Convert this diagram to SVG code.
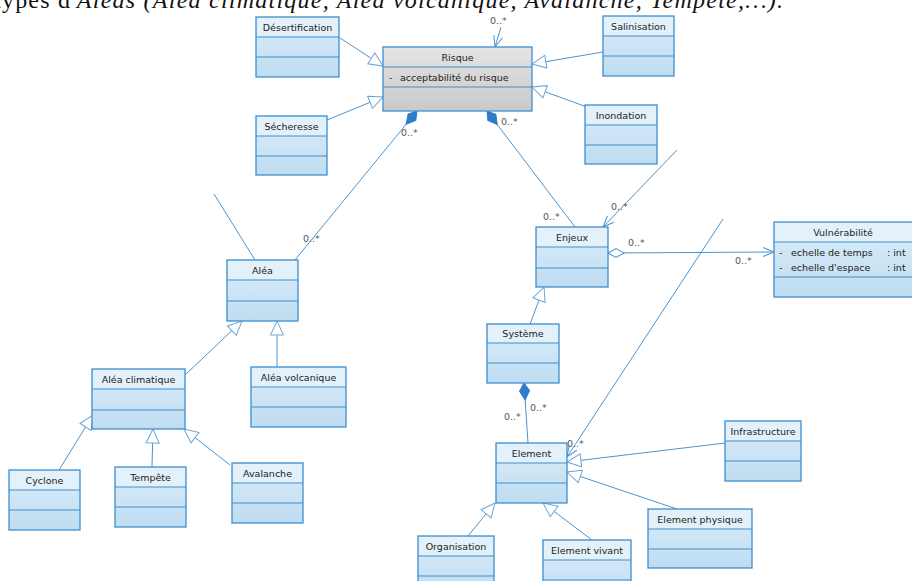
<svg xmlns="http://www.w3.org/2000/svg" width="912" height="581" viewBox="0 0 912 581">
  <defs>
    <linearGradient id="cls" x1="0" y1="0" x2="0" y2="1">
      <stop offset="0" stop-color="#dcedf9"/>
      <stop offset="1" stop-color="#bedcf1"/>
    </linearGradient>
    <linearGradient id="sel" x1="0" y1="0" x2="0" y2="1">
      <stop offset="0" stop-color="#e4e4e4"/>
      <stop offset="1" stop-color="#c9c9c9"/>
    </linearGradient>
    <marker id="gen" markerUnits="userSpaceOnUse" markerWidth="15" markerHeight="14" refX="14" refY="6.5" orient="auto" overflow="visible">
      <path d="M0,0 L14,6.5 L0,13 z" fill="#ffffff" stroke="#6aa6d8" stroke-width="1"/>
    </marker>
    <marker id="nav" markerUnits="userSpaceOnUse" markerWidth="12" markerHeight="10" refX="11" refY="4.5" orient="auto" overflow="visible">
      <path d="M0,0 L11,4.5 L0,9" fill="none" stroke="#4a94d0" stroke-width="1"/>
    </marker>
    <marker id="comp" markerUnits="userSpaceOnUse" markerWidth="18" markerHeight="10" refX="0" refY="5" orient="auto" overflow="visible">
      <path d="M0,5 L8,0 L17,5 L8,10 z" fill="#2f7cc9" stroke="#2f7cc9" stroke-width="1"/>
    </marker>
    <marker id="aggr" markerUnits="userSpaceOnUse" markerWidth="18" markerHeight="10" refX="0" refY="4.5" orient="auto" overflow="visible">
      <path d="M0,4.5 L8,0 L16,4.5 L8,9 z" fill="#ffffff" stroke="#4a94d0" stroke-width="1"/>
    </marker>
  </defs>
  <style>
    .box { fill: url(#cls); stroke: #3c8fd0; stroke-width: 1.3; }
    .box.sel { fill: url(#sel); }
    .hdr { fill: #e8f3fb; opacity: 0.7; }
    .div { stroke: #3c8fd0; stroke-width: 1.2; }
    .name { font-family: "DejaVu Sans", "Liberation Sans", sans-serif; font-size: 9.5px; fill: #222; text-anchor: middle; }
    .attr { font-family: "DejaVu Sans", "Liberation Sans", sans-serif; font-size: 9.5px; fill: #222; }
    .lnk { fill: none; stroke: #4a94d0; stroke-width: 1; }
    .mult { font-family: "DejaVu Sans", "Liberation Sans", sans-serif; font-size: 9.5px; fill: #555; }
    .cap { font-family: "Liberation Serif", "Times New Roman", serif; font-size: 24px; fill: #111; }
  </style>

  <!-- caption line above the figure -->
  <text class="cap" x="-6" y="8" textLength="789" lengthAdjust="spacing">types d'<tspan font-style="italic">Aléas (Aléa climatique, Aléa volcanique, Avalanche, Tempête,…).</tspan></text>

  <!-- connectors -->
  <g id="connectors">
    <!-- generalizations towards Risque -->
    <line class="lnk" x1="340" y1="38" x2="383" y2="66" marker-end="url(#gen)"/>
    <line class="lnk" x1="603" y1="52" x2="532" y2="64" marker-end="url(#gen)"/>
    <line class="lnk" x1="327" y1="120" x2="383" y2="97" marker-end="url(#gen)"/>
    <line class="lnk" x1="587" y1="107" x2="532" y2="87" marker-end="url(#gen)"/>
    <!-- association entering Risque from above -->
    <line class="lnk" x1="501" y1="27" x2="495" y2="47" marker-end="url(#nav)"/>
    <text class="mult" x="490" y="24">0..*</text>
    <!-- Risque compositions -->
    <line class="lnk" x1="417" y1="111" x2="295" y2="260" marker-start="url(#comp)"/>
    <text class="mult" x="401" y="136">0..*</text>
    <text class="mult" x="303" y="242">0..*</text>
    <line class="lnk" x1="487" y1="111" x2="575" y2="227" marker-start="url(#comp)"/>
    <text class="mult" x="501" y="125">0..*</text>
    <text class="mult" x="543" y="220">0..*</text>
    <!-- association entering Enjeux from upper right -->
    <line class="lnk" x1="677" y1="150" x2="603" y2="227" marker-end="url(#nav)"/>
    <text class="mult" x="611" y="210">0..*</text>
    <!-- line reaching Aléa from upper left -->
    <line class="lnk" x1="214" y1="194" x2="255" y2="260"/>
    <!-- Enjeux aggregates Vulnérabilité -->
    <line class="lnk" x1="608" y1="253" x2="774" y2="252" marker-start="url(#aggr)" marker-end="url(#nav)"/>
    <text class="mult" x="628" y="246">0..*</text>
    <text class="mult" x="735" y="264">0..*</text>
    <!-- long association to Element -->
    <line class="lnk" x1="723" y1="219" x2="567" y2="457" marker-end="url(#nav)"/>
    <text class="mult" x="567" y="447">0..*</text>
    <!-- Système / Enjeux / Element -->
    <line class="lnk" x1="530" y1="324" x2="544" y2="287" marker-end="url(#gen)"/>
    <line class="lnk" x1="524" y1="383" x2="528" y2="443" marker-start="url(#comp)"/>
    <text class="mult" x="504" y="420">0..*</text>
    <text class="mult" x="530" y="411">0..*</text>
    <!-- specializations of Element -->
    <line class="lnk" x1="725" y1="443" x2="567" y2="462" marker-end="url(#gen)"/>
    <line class="lnk" x1="677" y1="509" x2="567" y2="472" marker-end="url(#gen)"/>
    <line class="lnk" x1="468" y1="536" x2="495" y2="503" marker-end="url(#gen)"/>
    <line class="lnk" x1="592" y1="540" x2="543" y2="503" marker-end="url(#gen)"/>
    <!-- specializations of Aléa -->
    <line class="lnk" x1="184" y1="376" x2="242" y2="321" marker-end="url(#gen)"/>
    <line class="lnk" x1="277" y1="367" x2="277" y2="321" marker-end="url(#gen)"/>
    <!-- specializations of Aléa climatique -->
    <line class="lnk" x1="59" y1="470" x2="93" y2="415" marker-end="url(#gen)"/>
    <line class="lnk" x1="152" y1="467" x2="153" y2="429" marker-end="url(#gen)"/>
    <line class="lnk" x1="230" y1="465" x2="184" y2="429" marker-end="url(#gen)"/>
  </g>

  <!-- classes -->
  <g id="desertification">
    <rect class="box" x="256" y="17" width="83" height="60"/>
    <rect class="hdr" x="257" y="18" width="81" height="19"/>
    <line class="div" x1="256" y1="37" x2="339" y2="37"/>
    <line class="div" x1="256" y1="57" x2="339" y2="57"/>
    <text class="name" x="297.5" y="31">Désertification</text>
  </g>
  <g id="risque">
    <rect class="box sel" x="383" y="47" width="149" height="64"/>
    <line class="div" x1="383" y1="67" x2="532" y2="67"/>
    <line class="div" x1="383" y1="87" x2="532" y2="87"/>
    <text class="name" x="457.5" y="61">Risque</text>
    <text class="attr" x="389" y="81">-</text>
    <text class="attr" x="400" y="81">acceptabilité du risque</text>
  </g>
  <g id="salinisation">
    <rect class="box" x="603" y="16" width="71" height="60"/>
    <rect class="hdr" x="604" y="17" width="69" height="19"/>
    <line class="div" x1="603" y1="36" x2="674" y2="36"/>
    <line class="div" x1="603" y1="56" x2="674" y2="56"/>
    <text class="name" x="638.5" y="30">Salinisation</text>
  </g>
  <g id="secheresse">
    <rect class="box" x="256" y="116" width="71" height="59"/>
    <rect class="hdr" x="257" y="117" width="69" height="19"/>
    <line class="div" x1="256" y1="136" x2="327" y2="136"/>
    <line class="div" x1="256" y1="156" x2="327" y2="156"/>
    <text class="name" x="291.5" y="130">Sécheresse</text>
  </g>
  <g id="inondation">
    <rect class="box" x="585" y="105" width="72" height="59"/>
    <rect class="hdr" x="586" y="106" width="70" height="19"/>
    <line class="div" x1="585" y1="125" x2="657" y2="125"/>
    <line class="div" x1="585" y1="145" x2="657" y2="145"/>
    <text class="name" x="621" y="119">Inondation</text>
  </g>
  <g id="enjeux">
    <rect class="box" x="536" y="227" width="72" height="60"/>
    <rect class="hdr" x="537" y="228" width="70" height="19"/>
    <line class="div" x1="536" y1="247" x2="608" y2="247"/>
    <line class="div" x1="536" y1="268" x2="608" y2="268"/>
    <text class="name" x="572" y="241">Enjeux</text>
  </g>
  <g id="vulnerabilite">
    <rect class="box" x="774" y="222" width="142" height="75"/>
    <rect class="hdr" x="775" y="223" width="140" height="19"/>
    <line class="div" x1="774" y1="242" x2="916" y2="242"/>
    <line class="div" x1="774" y1="277" x2="916" y2="277"/>
    <text class="name" x="843" y="236">Vulnérabilité</text>
    <text class="attr" x="779" y="256">-</text>
    <text class="attr" x="791" y="256">echelle de temps</text>
    <text class="attr" x="887" y="256">: int</text>
    <text class="attr" x="779" y="271">-</text>
    <text class="attr" x="791" y="271">echelle d'espace</text>
    <text class="attr" x="887" y="271">: int</text>
  </g>
  <g id="alea">
    <rect class="box" x="227" y="260" width="71" height="61"/>
    <rect class="hdr" x="228" y="261" width="69" height="19"/>
    <line class="div" x1="227" y1="280" x2="298" y2="280"/>
    <line class="div" x1="227" y1="301" x2="298" y2="301"/>
    <text class="name" x="262.5" y="274">Aléa</text>
  </g>
  <g id="alea-climatique">
    <rect class="box" x="92" y="369" width="93" height="60"/>
    <rect class="hdr" x="93" y="370" width="91" height="19"/>
    <line class="div" x1="92" y1="389" x2="185" y2="389"/>
    <line class="div" x1="92" y1="410" x2="185" y2="410"/>
    <text class="name" x="138.5" y="383">Aléa climatique</text>
  </g>
  <g id="alea-volcanique">
    <rect class="box" x="251" y="367" width="95" height="60"/>
    <rect class="hdr" x="252" y="368" width="93" height="19"/>
    <line class="div" x1="251" y1="387" x2="346" y2="387"/>
    <line class="div" x1="251" y1="407" x2="346" y2="407"/>
    <text class="name" x="298.5" y="381">Aléa volcanique</text>
  </g>
  <g id="cyclone">
    <rect class="box" x="9" y="470" width="71" height="60"/>
    <rect class="hdr" x="10" y="471" width="69" height="19"/>
    <line class="div" x1="9" y1="490" x2="80" y2="490"/>
    <line class="div" x1="9" y1="510" x2="80" y2="510"/>
    <text class="name" x="44.5" y="484">Cyclone</text>
  </g>
  <g id="tempete">
    <rect class="box" x="115" y="467" width="71" height="60"/>
    <rect class="hdr" x="116" y="468" width="69" height="19"/>
    <line class="div" x1="115" y1="487" x2="186" y2="487"/>
    <line class="div" x1="115" y1="507" x2="186" y2="507"/>
    <text class="name" x="150.5" y="481">Tempête</text>
  </g>
  <g id="avalanche">
    <rect class="box" x="232" y="463" width="71" height="60"/>
    <rect class="hdr" x="233" y="464" width="69" height="19"/>
    <line class="div" x1="232" y1="483" x2="303" y2="483"/>
    <line class="div" x1="232" y1="503" x2="303" y2="503"/>
    <text class="name" x="267.5" y="477">Avalanche</text>
  </g>
  <g id="systeme">
    <rect class="box" x="487" y="324" width="72" height="59"/>
    <rect class="hdr" x="488" y="325" width="70" height="18"/>
    <line class="div" x1="487" y1="343" x2="559" y2="343"/>
    <line class="div" x1="487" y1="363" x2="559" y2="363"/>
    <text class="name" x="523" y="337">Système</text>
  </g>
  <g id="element">
    <rect class="box" x="496" y="443" width="71" height="60"/>
    <rect class="hdr" x="497" y="444" width="69" height="19"/>
    <line class="div" x1="496" y1="463" x2="567" y2="463"/>
    <line class="div" x1="496" y1="483" x2="567" y2="483"/>
    <text class="name" x="531.5" y="457">Element</text>
  </g>
  <g id="infrastructure">
    <rect class="box" x="725" y="421" width="76" height="60"/>
    <rect class="hdr" x="726" y="422" width="74" height="19"/>
    <line class="div" x1="725" y1="441" x2="801" y2="441"/>
    <line class="div" x1="725" y1="461" x2="801" y2="461"/>
    <text class="name" x="763" y="435">Infrastructure</text>
  </g>
  <g id="element-physique">
    <rect class="box" x="648" y="509" width="104" height="59"/>
    <rect class="hdr" x="649" y="510" width="102" height="19"/>
    <line class="div" x1="648" y1="529" x2="752" y2="529"/>
    <line class="div" x1="648" y1="549" x2="752" y2="549"/>
    <text class="name" x="700" y="523">Element physique</text>
  </g>
  <g id="organisation">
    <rect class="box" x="418" y="536" width="76" height="60"/>
    <rect class="hdr" x="419" y="537" width="74" height="19"/>
    <line class="div" x1="418" y1="556" x2="494" y2="556"/>
    <line class="div" x1="418" y1="576" x2="494" y2="576"/>
    <text class="name" x="456" y="550">Organisation</text>
  </g>
  <g id="element-vivant">
    <rect class="box" x="543" y="540" width="88" height="60"/>
    <rect class="hdr" x="544" y="541" width="86" height="19"/>
    <line class="div" x1="543" y1="560" x2="631" y2="560"/>
    <line class="div" x1="543" y1="580" x2="631" y2="580"/>
    <text class="name" x="587" y="554">Element vivant</text>
  </g>
</svg>
